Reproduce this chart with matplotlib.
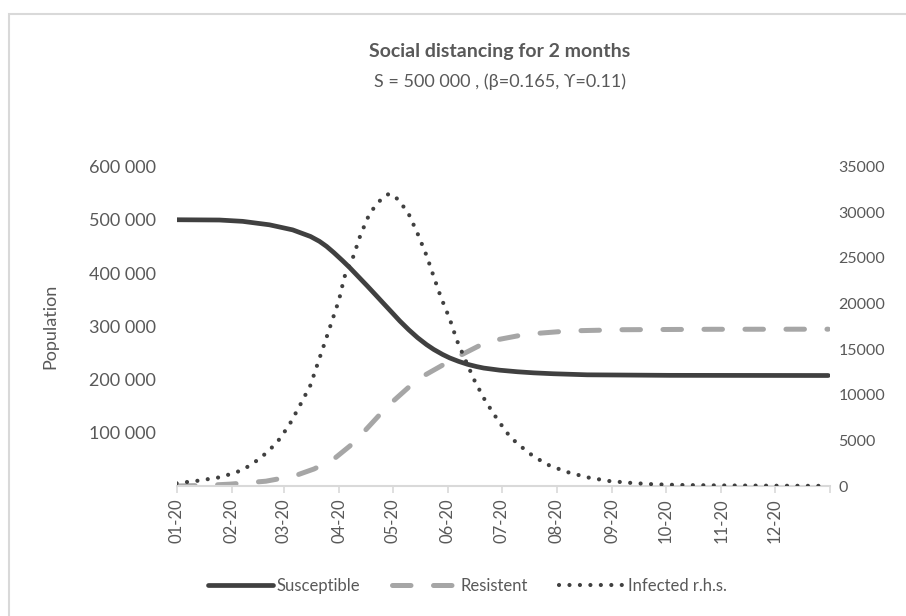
import numpy as np
import matplotlib.pyplot as plt
from matplotlib.patches import Rectangle

plt.rcParams['font.family'] = ['Lato', 'DejaVu Sans']

# day of year 2020 (0 = 1 Jan) and values
s_days = [0, 24, 37, 52, 65, 75, 80, 84, 88, 93, 97, 103, 107, 112, 116, 121,
          125, 130, 135, 140, 144, 149, 153, 158, 163, 168, 172, 181, 191, 200,
          211, 230, 276, 365]
susceptible = [500000, 499500, 497000, 490500, 481000, 468600, 459500, 450000,
               438500, 423000, 410000, 389000, 375000, 357000, 342500, 324500,
               310000, 293500, 278500, 265500, 256500, 247000, 240500, 234000,
               228500, 224300, 221500, 217500, 214500, 212500, 210800, 208800,
               207800, 207500]

r_days = [0, 15, 30, 50, 66, 77, 88, 97, 104, 118, 135, 156, 174, 196, 220,
          250, 300, 365]
resistent = [0, 1000, 3500, 9000, 18900, 32000, 50500, 75000, 98400, 149400,
             200500, 240300, 271100, 285100, 291300, 293500, 294300, 294500]

i_days = [0, 12, 25, 37, 47, 56, 63, 69, 75, 79, 83, 87, 91, 94, 99, 103, 108,
          112, 116, 119, 122, 126, 130, 135, 140, 144, 148, 153, 157, 162, 167,
          173, 180, 187, 197, 207, 218, 230, 242, 255, 267, 282, 304, 338, 365]
infected = [300, 580, 980, 1750, 3050, 4700, 6650, 8800, 11050, 13400, 15700,
            18050, 20400, 22900, 25150, 27500, 29800, 30850, 31700, 32000, 31800,
            30900, 29800, 27650, 25250, 22950, 20700, 18300, 15950, 13700, 11500,
            9300, 7200, 5330, 3650, 2400, 1570, 950, 550, 330, 190, 110, 60, 30, 15]

month_start = [0, 31, 60, 91, 121, 152, 182, 213, 244, 274, 305, 335, 366]
month_labels = ['01-20', '02-20', '03-20', '04-20', '05-20', '06-20',
                '07-20', '08-20', '09-20', '10-20', '11-20', '12-20']

txt = '#595959'
fig = plt.figure(figsize=(9.06, 6.16), dpi=100)
fig.patches.append(Rectangle((9 / 906, -0.1), 1.2, 1.1 - 14 / 616,
                             transform=fig.transFigure, fill=False,
                             edgecolor='#d9d9d9', linewidth=1.5))

ax = fig.add_axes([176.6 / 906, 1 - 486 / 616, (830 - 176.6) / 906, (486 - 166.5) / 616])
ax2 = ax.twinx()

l1, = ax.plot(s_days, susceptible, color='#404040', lw=3.4, solid_capstyle='round',
              label='Susceptible')
l2, = ax.plot(r_days, resistent, color='#a6a6a6', lw=3.6, dashes=(3.7, 4.5),
              dash_capstyle='round', label='Resistent')
l3, = ax2.plot(i_days, infected, color='#404040', lw=3.0, dashes=(0.01, 2.5),
               dash_capstyle='round', label='Infected r.h.s.')

ax.set_xlim(0, 366)
ax.set_ylim(0, 600000)
ax2.set_ylim(0, 35000)
ax.set_yticks(range(100000, 600001, 100000))
ax.set_yticklabels(['{:,}'.format(v).replace(',', ' ') for v in range(100000, 600001, 100000)])
ax2.set_yticks(range(0, 35001, 5000))
ax2.set_yticklabels([str(v) for v in range(0, 35001, 5000)])

ax.set_xticks(month_start)
ax.set_xticklabels(month_labels + [''], rotation=90)
for a in (ax, ax2):
    for sp in a.spines.values():
        sp.set_visible(False)
ax.spines['bottom'].set_visible(True)
ax.spines['bottom'].set_color('#d9d9d9')
ax.spines['bottom'].set_linewidth(1.5)
ax.tick_params(axis='x', colors='#d9d9d9', length=5, width=1.2, labelcolor=txt,
               labelsize=12, pad=4)
ax.tick_params(axis='y', length=0, labelcolor=txt, labelsize=13, pad=15)
ax2.tick_params(axis='y', length=0, labelcolor=txt, labelsize=11.5, pad=6)

ax.set_ylabel('Population', color=txt, fontsize=13, labelpad=22)

fig.text(0.552, 1 - 52 / 616, 'Social distancing for 2 months', ha='center', va='center',
         fontsize=14, fontweight='bold', color=txt)
fig.text(0.552, 1 - 82 / 616, 'S = 500 000 , (β=0.165, ϒ=0.11)', ha='center', va='center',
         fontsize=13, color=txt)

fig.legend(handles=[l1, l2, l3], loc='center', bbox_to_anchor=(0.516, 1 - 586 / 616),
           ncol=3, frameon=False, fontsize=12, labelcolor=txt, handlelength=3.9,
           columnspacing=1.9, handletextpad=0.2)

fig.savefig('out.png', dpi=100, facecolor='white')
